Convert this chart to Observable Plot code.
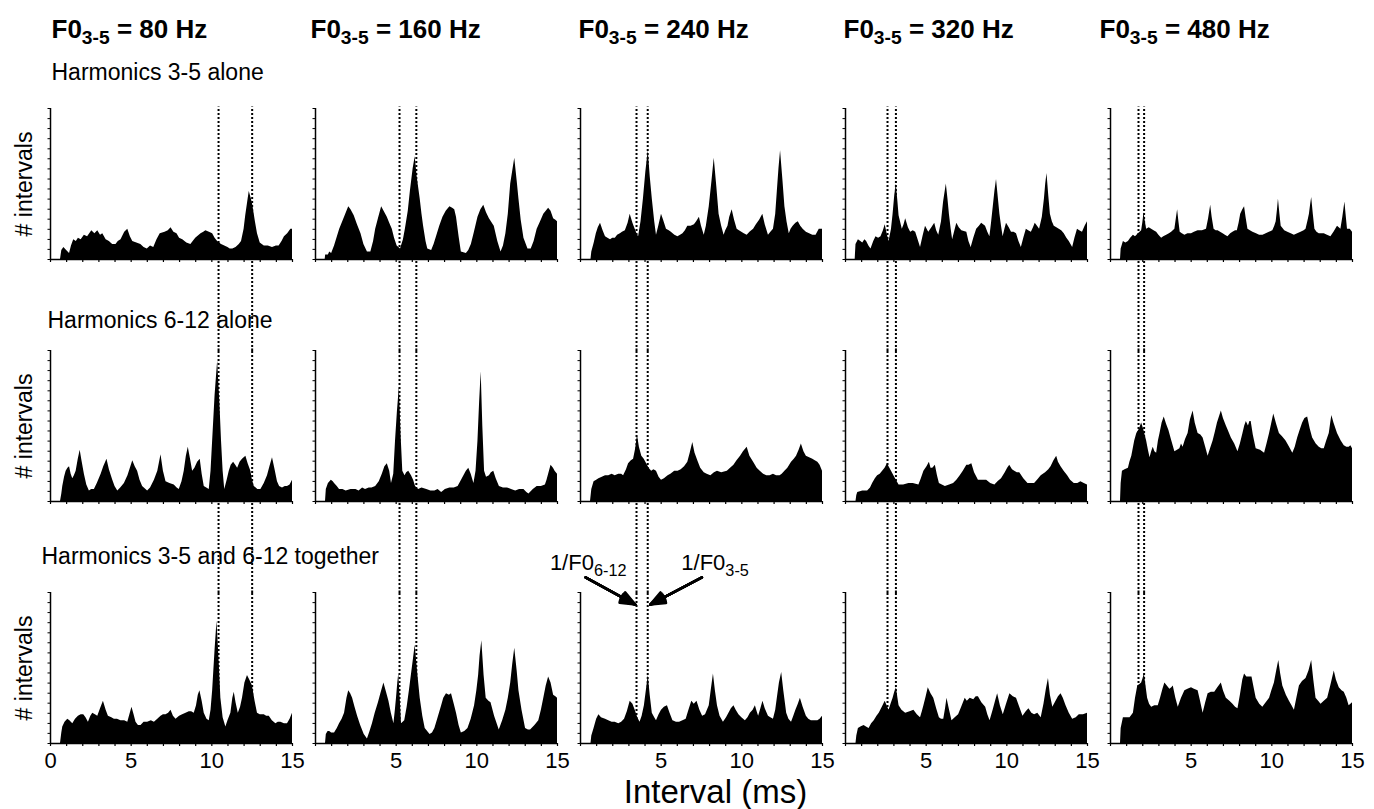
<!DOCTYPE html>
<html><head><meta charset="utf-8">
<script src="https://cdn.jsdelivr.net/npm/d3@7"></script>
<script src="https://cdn.jsdelivr.net/npm/@observablehq/plot@0.6"></script>
<style>html,body{margin:0;padding:0;background:#fff}</style>
</head><body><div id="chart"></div><script>
// ---------- data ----------
const f035 = [80, 160, 240, 320, 480];          // F0 of harmonics 3-5 (Hz)
const f0612 = [96, 192, 288, 384, 576];         // F0 of harmonics 6-12 (Hz)
const conditions = ["Harmonics 3-5 alone", "Harmonics 6-12 alone", "Harmonics 3-5 and 6-12 together"];
const titleText = ["F0_{3-5} = 80 Hz", "F0_{3-5} = 160 Hz", "F0_{3-5} = 240 Hz", "F0_{3-5} = 320 Hz", "F0_{3-5} = 480 Hz"];
const xTicks = [0,1,2,3,4,5,6,7,8,9,10,11,12,13,14,15];
const yTicks = [0,6.7,13.3,20,26.7,33.3,40,46.7,53.3,60,66.7,73.3,80,86.7,93.3,100];
const firstColTickLabels = [0, 5, 10, 15];
const otherColTickLabels = [5, 10, 15];

// interval histograms: [interval (ms), relative # intervals (% of axis height)]
const r1c1 = [[0,0],[0.62,0],[0.7,6],[0.83,8],[1.0,6],[1.18,4],[1.3,9],[1.44,13],[1.6,12],[1.73,14],[1.9,13],[2.1,16],[2.3,15],[2.56,19],[2.75,17],[2.93,19],[3.1,16],[3.24,17],[3.45,13],[3.65,12],[3.85,10],[4.06,10],[4.2,12],[4.37,13],[4.6,18],[4.79,20],[4.95,15],[5.1,12],[5.35,11],[5.6,10],[5.8,8],[6.0,7],[6.2,9],[6.4,8],[6.6,13],[6.8,17],[7.1,18],[7.3,19],[7.47,21],[7.65,18],[7.84,17],[8.0,14],[8.2,13],[8.45,11],[8.7,10],[9.0,14],[9.33,17],[9.5,18],[9.63,19],[9.85,18],[10.05,17],[10.2,14],[10.36,12],[10.6,10],[10.8,9],[11.0,8],[11.14,7],[11.3,7],[11.5,8],[11.7,10],[11.84,12],[12.0,20],[12.1,29],[12.25,40],[12.32,45],[12.45,40],[12.54,36],[12.7,25],[12.83,17],[13.0,11],[13.25,9],[13.5,9],[13.76,8],[14.0,9],[14.17,9],[14.35,12],[14.5,15],[14.7,17],[14.9,20],[15,20]];
const r1c2 = [[0,0],[0.6,0],[0.63,3],[0.8,3],[0.88,5],[1.0,4],[1.18,9],[1.5,20],[1.8,28],[2.06,35],[2.2,33],[2.4,29],[2.6,23],[2.82,17],[3.0,10],[3.22,5],[3.43,5],[3.6,12],[3.73,20],[3.9,27],[4.1,35],[4.25,32],[4.45,28],[4.6,24],[4.76,20],[4.9,14],[5.06,9],[5.27,7],[5.45,13],[5.57,20],[5.75,32],[5.88,45],[6.05,60],[6.18,68],[6.3,55],[6.49,40],[6.6,30],[6.7,22],[6.85,12],[6.96,7],[7.2,6],[7.35,10],[7.5,15],[7.7,22],[7.9,28],[8.1,32],[8.33,35],[8.5,34],[8.63,33],[8.74,28],[8.9,15],[9.04,5],[9.35,4],[9.5,6],[9.66,10],[9.85,18],[10.07,28],[10.25,33],[10.43,36],[10.6,31],[10.78,27],[11.08,22],[11.3,12],[11.5,5],[11.65,9],[11.8,17],[11.95,30],[12.1,50],[12.35,67],[12.5,52],[12.61,40],[12.75,26],[12.92,14],[13.17,7],[13.37,7],[13.55,12],[13.74,20],[13.95,25],[14.15,30],[14.45,34],[14.6,32],[14.76,27],[14.9,26],[15,25]];
const r1c3 = [[0,0],[0.65,0],[0.7,5],[0.85,11],[0.98,17],[1.1,21],[1.24,24],[1.4,19],[1.55,15],[1.7,14],[1.86,13],[2.0,14],[2.16,14],[2.3,16],[2.47,17],[2.6,18],[2.78,19],[2.95,24],[3.08,30],[3.25,24],[3.39,20],[3.5,17],[3.6,15],[3.75,25],[3.9,40],[4.05,58],[4.2,72],[4.32,55],[4.45,40],[4.6,25],[4.71,16],[4.85,22],[5.02,30],[5.15,26],[5.33,20],[5.5,19],[5.63,18],[5.85,16],[6.04,15],[6.2,16],[6.35,17],[6.5,19],[6.65,22],[6.85,22],[7.06,23],[7.2,25],[7.37,28],[7.5,22],[7.67,16],[7.8,22],[7.98,35],[8.15,52],[8.29,67],[8.45,48],[8.59,30],[8.75,22],[8.9,16],[9.0,19],[9.14,22],[9.25,28],[9.4,33],[9.55,26],[9.71,20],[9.85,19],[10.0,18],[10.15,17],[10.33,16],[10.5,18],[10.73,20],[10.9,23],[11.1,26],[11.2,28],[11.3,30],[11.45,23],[11.65,16],[11.8,18],[11.96,20],[12.1,30],[12.2,45],[12.3,60],[12.4,72],[12.55,52],[12.67,35],[12.8,25],[12.94,17],[13.05,20],[13.18,22],[13.35,24],[13.5,25],[13.65,22],[13.8,20],[14.0,18],[14.2,17],[14.4,16],[14.6,16],[14.7,18],[14.8,20],[15,20]];
const r1c4 = [[0,0],[0.6,0],[0.65,10],[0.8,13],[0.95,12],[1.07,11],[1.2,13],[1.31,12],[1.45,9],[1.58,7],[1.75,12],[1.89,15],[2.05,14],[2.2,15],[2.35,19],[2.46,23],[2.58,17],[2.7,12],[2.85,20],[2.95,30],[3.05,42],[3.15,50],[3.25,38],[3.32,29],[3.52,20],[3.63,23],[3.73,27],[3.9,21],[4.04,18],[4.2,19],[4.35,18],[4.5,13],[4.65,8],[4.8,15],[4.96,22],[5.16,18],[5.35,21],[5.53,24],[5.65,19],[5.78,16],[5.95,25],[6.08,38],[6.25,50],[6.35,40],[6.44,30],[6.55,20],[6.64,13],[6.78,19],[6.9,24],[7.05,21],[7.21,19],[7.52,18],[7.65,12],[7.79,8],[7.95,14],[8.13,20],[8.3,22],[8.44,24],[8.68,22],[8.82,18],[8.95,15],[9.05,24],[9.16,35],[9.26,45],[9.36,53],[9.46,42],[9.57,30],[9.67,22],[9.77,15],[9.88,20],[9.98,24],[10.15,21],[10.29,18],[10.45,18],[10.6,17],[10.75,12],[10.9,8],[11.05,14],[11.21,20],[11.35,19],[11.52,18],[11.65,21],[11.76,24],[11.9,22],[12.03,20],[12.2,28],[12.33,40],[12.41,50],[12.49,57],[12.6,42],[12.7,30],[12.82,25],[12.94,22],[13.1,21],[13.25,20],[13.4,19],[13.56,17],[13.72,14],[13.87,12],[14.08,8],[14.22,14],[14.38,20],[14.52,19],[14.69,18],[14.85,22],[15,25]];
const r1c5 = [[0,0],[0.62,0],[0.66,7],[0.8,12],[0.95,11],[1.11,12],[1.25,14],[1.42,16],[1.55,15],[1.73,17],[1.93,19],[2.0,24],[2.08,31],[2.16,25],[2.24,20],[2.4,21],[2.55,20],[2.7,19],[2.86,18],[3.0,16],[3.17,14],[3.3,15],[3.48,16],[3.65,17],[3.79,18],[3.99,20],[4.08,27],[4.16,33],[4.24,25],[4.32,18],[4.45,17],[4.61,16],[4.8,17],[5.02,17],[5.2,18],[5.43,19],[5.7,19],[5.95,20],[6.08,27],[6.21,36],[6.3,28],[6.42,20],[6.55,19],[6.67,19],[6.82,18],[6.98,17],[7.12,16],[7.28,15],[7.45,17],[7.59,18],[7.75,19],[7.86,19],[7.97,24],[8.07,30],[8.2,33],[8.31,35],[8.4,28],[8.52,20],[8.67,19],[8.83,18],[9.05,17],[9.24,16],[9.45,16],[9.65,17],[9.85,18],[10.06,19],[10.18,22],[10.27,25],[10.35,33],[10.41,40],[10.5,30],[10.58,22],[10.8,19],[10.99,18],[11.2,17],[11.4,16],[11.6,17],[11.81,18],[12.0,19],[12.12,20],[12.25,26],[12.33,30],[12.4,36],[12.47,41],[12.57,30],[12.67,20],[12.8,18],[12.94,17],[13.1,17],[13.25,17],[13.45,16],[13.66,15],[13.85,18],[14.07,22],[14.18,21],[14.28,20],[14.4,28],[14.53,38],[14.6,30],[14.69,20],[14.86,20],[15,18]];
const r2c1 = [[0,0],[0.62,0],[0.7,5],[0.76,10],[0.87,16],[0.97,20],[1.08,22],[1.18,23],[1.28,18],[1.38,15],[1.48,17],[1.59,20],[1.72,28],[1.84,34],[1.95,27],[2.1,18],[2.25,11],[2.41,7],[2.55,8],[2.72,8],[2.9,12],[3.14,18],[3.3,23],[3.5,28],[3.65,21],[3.86,14],[4.0,10],[4.17,7],[4.35,9],[4.58,12],[4.8,17],[4.95,22],[5.1,27],[5.25,23],[5.4,20],[5.55,14],[5.71,10],[6.02,7],[6.2,9],[6.44,14],[6.65,20],[6.85,31],[7.0,20],[7.16,13],[7.4,12],[7.67,11],[7.85,9],[7.98,8],[8.15,13],[8.29,20],[8.42,30],[8.54,36],[8.68,28],[8.81,20],[8.95,22],[9.12,26],[9.28,28],[9.4,18],[9.53,10],[9.84,8],[9.95,20],[10.05,40],[10.2,70],[10.36,93],[10.5,65],[10.6,40],[10.7,20],[10.8,8],[10.95,14],[11.08,20],[11.2,24],[11.35,26],[11.48,24],[11.6,22],[11.75,26],[11.9,28],[12.11,30],[12.25,25],[12.42,20],[12.5,15],[12.63,10],[12.85,8],[13.04,8],[13.25,12],[13.45,17],[13.6,23],[13.76,29],[13.9,22],[14.07,13],[14.2,10],[14.38,9],[14.55,10],[14.69,10],[14.85,11],[15,14]];
const r2c2 = [[0,0],[0.62,0],[0.67,8],[0.8,12],[0.98,14],[1.1,13],[1.18,12],[1.35,10],[1.49,8],[1.7,8],[1.9,7],[2.2,8],[2.51,8],[2.7,7],[2.92,9],[3.1,8],[3.33,9],[3.5,9],[3.73,10],[3.95,13],[4.14,18],[4.3,23],[4.45,25],[4.6,20],[4.71,12],[4.85,18],[4.96,40],[5.08,60],[5.2,76],[5.3,45],[5.41,20],[5.55,17],[5.65,19],[5.78,20],[5.95,17],[6.08,14],[6.2,10],[6.39,8],[6.6,9],[6.9,8],[7.15,7],[7.4,7],[7.6,8],[7.82,6],[8.05,8],[8.33,9],[8.6,9],[8.84,10],[9.0,13],[9.15,16],[9.35,20],[9.5,22],[9.65,18],[9.82,12],[9.95,20],[10.07,40],[10.17,65],[10.27,86],[10.37,50],[10.48,20],[10.6,16],[10.78,17],[10.9,19],[11.05,20],[11.2,15],[11.4,10],[11.65,9],[11.9,9],[12.15,8],[12.41,7],[12.65,8],[12.92,8],[13.1,6],[13.23,5],[13.5,8],[13.74,10],[14.0,10],[14.25,11],[14.35,14],[14.45,18],[14.6,24],[14.75,22],[14.85,20],[15,18]];
const r2c3 = [[0,0],[0.62,0],[0.7,8],[0.84,13],[1.0,14],[1.14,15],[1.35,16],[1.55,17],[1.75,17],[1.96,18],[2.15,17],[2.37,18],[2.55,18],[2.67,17],[2.85,21],[2.98,25],[3.15,27],[3.29,28],[3.42,35],[3.53,44],[3.65,36],[3.8,30],[3.95,28],[4.1,25],[4.25,22],[4.41,20],[4.55,21],[4.71,20],[4.87,16],[5.02,14],[5.2,15],[5.43,17],[5.6,18],[5.84,20],[6.05,20],[6.24,21],[6.45,23],[6.65,26],[6.8,32],[6.96,39],[7.1,32],[7.27,27],[7.45,22],[7.67,19],[7.85,18],[8.08,17],[8.3,19],[8.49,20],[8.75,19],[9.1,20],[9.3,22],[9.51,24],[9.7,27],[9.92,30],[10.1,33],[10.33,36],[10.5,30],[10.73,26],[10.95,22],[11.14,20],[11.35,18],[11.55,17],[11.75,17],[11.96,18],[12.15,17],[12.37,17],[12.5,18],[12.67,20],[12.85,22],[13.08,26],[13.25,28],[13.39,30],[13.55,34],[13.69,38],[13.85,33],[14.0,30],[14.2,29],[14.4,28],[14.55,27],[14.71,26],[14.85,24],[15,20]];
const r2c4 = [[0,0],[0.65,0],[0.7,4],[0.76,6],[1.07,7],[1.37,7],[1.55,9],[1.68,12],[1.85,15],[1.99,17],[2.15,18],[2.3,20],[2.45,22],[2.6,25],[2.75,22],[2.9,19],[3.1,15],[3.32,11],[3.6,11],[3.93,12],[4.2,12],[4.55,11],[4.7,15],[4.86,20],[5.05,23],[5.2,26],[5.3,22],[5.41,22],[5.57,24],[5.7,17],[5.82,12],[6.0,11],[6.19,10],[6.45,11],[6.7,12],[6.9,14],[7.11,17],[7.3,20],[7.52,24],[7.65,24],[7.83,25],[8.0,19],[8.24,14],[8.5,14],[8.75,14],[9.0,12],[9.26,11],[9.45,13],[9.67,15],[9.9,19],[10.05,22],[10.18,24],[10.35,21],[10.49,20],[10.65,19],[10.8,19],[11.05,15],[11.31,12],[11.5,12],[11.72,12],[11.9,14],[12.13,17],[12.4,19],[12.6,21],[12.74,23],[12.92,27],[13.09,30],[13.2,26],[13.36,23],[13.55,20],[13.77,17],[13.95,14],[14.18,12],[14.4,12],[14.59,13],[14.8,12],[15,11]];
const r2c5 = [[0,0],[0.62,0],[0.66,12],[0.74,20],[0.9,21],[1.11,22],[1.2,26],[1.32,30],[1.5,40],[1.63,45],[1.8,48],[1.93,52],[2.05,48],[2.24,40],[2.35,34],[2.45,29],[2.55,33],[2.65,36],[2.75,33],[2.86,32],[2.97,40],[3.07,45],[3.2,52],[3.33,56],[3.48,51],[3.62,47],[3.8,40],[3.99,33],[4.15,34],[4.3,35],[4.4,38],[4.5,36],[4.65,41],[4.81,45],[4.95,54],[5.12,60],[5.25,52],[5.43,45],[5.6,44],[5.74,42],[5.9,36],[6.05,30],[6.2,35],[6.36,40],[6.5,46],[6.63,52],[6.75,56],[6.87,60],[7.0,55],[7.18,50],[7.3,47],[7.49,42],[7.7,38],[7.9,33],[8.05,38],[8.21,45],[8.32,50],[8.42,53],[8.55,50],[8.64,53],[8.72,53],[8.85,44],[9.03,35],[9.3,34],[9.55,32],[9.7,38],[9.86,45],[10.0,52],[10.12,58],[10.3,51],[10.47,45],[10.65,43],[10.88,40],[11.1,36],[11.3,32],[11.45,36],[11.6,42],[11.75,47],[11.91,52],[12.05,55],[12.22,56],[12.38,48],[12.53,42],[12.75,38],[12.94,36],[13.1,35],[13.25,35],[13.4,40],[13.56,45],[13.65,52],[13.72,57],[13.85,52],[14.07,45],[14.3,40],[14.49,37],[14.65,36],[14.79,36],[14.9,37],[15,35]];
const r3c1 = [[0,0],[0.62,0],[0.7,7],[0.76,11],[0.9,14],[1.07,16],[1.2,15],[1.38,13],[1.55,16],[1.73,18],[1.9,19],[2.06,19],[2.2,17],[2.35,14],[2.5,18],[2.62,20],[2.78,19],[2.93,18],[3.1,23],[3.28,28],[3.45,22],[3.59,18],[3.8,17],[3.96,16],[4.15,16],[4.37,15],[4.6,15],[4.79,14],[4.92,19],[5.05,24],[5.18,19],[5.3,14],[5.45,12],[5.61,12],[5.8,14],[6.02,14],[6.25,15],[6.44,14],[6.65,16],[6.85,18],[7.0,19],[7.16,19],[7.32,20],[7.47,22],[7.62,18],[7.78,16],[8.0,18],[8.19,19],[8.4,20],[8.6,21],[8.75,21],[8.91,20],[9.05,25],[9.16,32],[9.26,35],[9.4,28],[9.53,20],[9.7,16],[9.84,15],[9.95,22],[10.05,35],[10.2,62],[10.32,81],[10.45,55],[10.56,30],[10.7,17],[10.87,11],[11.0,15],[11.18,20],[11.3,30],[11.39,34],[11.5,27],[11.64,20],[11.78,24],[11.9,30],[12.05,40],[12.21,45],[12.35,42],[12.52,38],[12.68,28],[12.83,20],[13.0,19],[13.25,19],[13.4,18],[13.56,18],[13.75,15],[13.97,13],[14.12,14],[14.28,14],[14.5,13],[14.69,13],[14.85,16],[15,20]];
const r3c2 = [[0,0],[0.62,0],[0.67,6],[0.78,8],[0.88,8],[1.0,7],[1.18,7],[1.35,10],[1.49,13],[1.65,16],[1.8,20],[1.95,30],[2.06,35],[2.18,33],[2.3,30],[2.45,24],[2.61,18],[2.8,12],[3.02,6],[3.22,3],[3.38,8],[3.53,13],[3.7,20],[3.9,27],[4.05,33],[4.24,40],[4.4,34],[4.55,28],[4.7,20],[4.86,13],[4.95,22],[5.02,30],[5.1,40],[5.16,46],[5.25,30],[5.33,13],[5.53,15],[5.68,24],[5.82,35],[6.0,50],[6.18,65],[6.35,45],[6.49,30],[6.65,18],[6.8,10],[7.1,6],[7.25,7],[7.4,10],[7.6,17],[7.82,25],[7.95,30],[8.12,33],[8.3,32],[8.43,33],[8.6,26],[8.74,20],[8.9,12],[9.04,7],[9.25,8],[9.45,10],[9.65,16],[9.86,25],[10.0,35],[10.11,45],[10.2,58],[10.31,68],[10.45,45],[10.58,30],[10.75,28],[10.88,27],[11.1,18],[11.39,9],[11.6,15],[11.8,22],[11.95,30],[12.1,40],[12.22,52],[12.35,63],[12.5,48],[12.61,35],[12.8,22],[13.02,10],[13.2,9],[13.33,9],[13.6,12],[13.84,15],[14.0,22],[14.15,30],[14.3,38],[14.45,44],[14.6,40],[14.76,32],[14.9,31],[15,30]];
const r3c3 = [[0,0],[0.65,0],[0.7,5],[0.84,10],[1.0,16],[1.14,19],[1.3,17],[1.55,16],[1.75,15],[1.96,14],[2.15,14],[2.37,13],[2.55,14],[2.73,16],[2.9,21],[3.08,28],[3.25,26],[3.39,22],[3.55,17],[3.69,14],[3.82,18],[3.96,25],[4.08,35],[4.2,45],[4.32,32],[4.45,20],[4.6,17],[4.71,15],[4.87,19],[5.02,22],[5.2,24],[5.39,25],[5.55,20],[5.73,15],[5.95,14],[6.14,14],[6.35,15],[6.55,16],[6.72,22],[6.9,28],[7.05,26],[7.22,28],[7.4,22],[7.57,18],[7.75,19],[7.98,25],[8.1,35],[8.24,46],[8.36,35],[8.49,25],[8.65,18],[8.86,14],[9.05,17],[9.2,20],[9.35,23],[9.51,25],[9.65,22],[9.82,19],[10.0,17],[10.22,15],[10.38,17],[10.53,20],[10.7,22],[10.84,25],[10.95,21],[11.04,18],[11.18,23],[11.31,28],[11.45,23],[11.65,18],[11.8,17],[11.96,16],[12.1,22],[12.2,30],[12.33,40],[12.47,47],[12.6,35],[12.78,20],[12.92,16],[13.08,14],[13.22,18],[13.35,22],[13.5,26],[13.63,30],[13.8,24],[14.0,18],[14.15,16],[14.31,15],[14.5,15],[14.71,15],[14.85,16],[15,18]];
const r3c4 = [[0,0],[0.65,0],[0.7,5],[0.8,10],[0.95,11],[1.15,12],[1.3,11],[1.46,10],[1.62,13],[1.78,15],[1.95,18],[2.09,20],[2.28,24],[2.46,28],[2.58,25],[2.7,22],[2.82,26],[2.95,30],[3.05,34],[3.16,37],[3.25,30],[3.32,25],[3.5,22],[3.73,20],[4.0,21],[4.24,22],[4.45,19],[4.65,17],[4.76,21],[4.86,25],[5.0,31],[5.13,37],[5.3,33],[5.47,30],[5.65,23],[5.82,17],[5.95,16],[6.09,16],[6.2,23],[6.29,30],[6.45,22],[6.6,15],[6.8,17],[7.01,19],[7.2,24],[7.42,30],[7.55,28],[7.73,30],[7.95,29],[8.1,31],[8.24,31],[8.45,27],[8.69,24],[8.82,19],[8.96,15],[9.15,22],[9.3,28],[9.43,33],[9.6,25],[9.78,19],[9.98,26],[10.19,33],[10.4,31],[10.6,30],[10.8,24],[11.0,18],[11.2,21],[11.37,23],[11.55,20],[11.72,19],[11.92,20],[12.13,17],[12.3,26],[12.45,36],[12.58,43],[12.7,32],[12.85,24],[13.0,27],[13.2,31],[13.36,33],[13.5,30],[13.67,25],[13.87,20],[14.08,16],[14.3,17],[14.49,19],[14.75,19],[15,20]];
const r3c5 = [[0,0],[0.62,0],[0.66,10],[0.8,17],[1.0,17],[1.21,17],[1.42,20],[1.55,30],[1.69,38],[1.82,39],[1.93,40],[2.02,43],[2.1,46],[2.2,38],[2.3,30],[2.42,26],[2.55,24],[2.75,25],[2.96,25],[3.1,30],[3.25,36],[3.37,40],[3.52,38],[3.68,36],[3.8,37],[3.89,38],[4.05,30],[4.2,24],[4.4,30],[4.61,35],[4.8,36],[5.02,37],[5.2,36],[5.43,35],[5.58,28],[5.74,20],[5.9,27],[6.05,33],[6.25,34],[6.46,34],[6.65,37],[6.87,40],[7.0,35],[7.18,30],[7.4,28],[7.59,26],[7.75,24],[7.9,23],[8.05,32],[8.2,42],[8.31,46],[8.45,44],[8.62,44],[8.77,44],[8.9,37],[9.03,30],[9.25,26],[9.44,24],[9.65,27],[9.86,30],[10.0,35],[10.16,40],[10.3,48],[10.43,55],[10.55,46],[10.68,38],[10.9,32],[11.09,28],[11.25,25],[11.4,22],[11.55,30],[11.71,38],[11.9,41],[12.12,43],[12.3,48],[12.47,55],[12.6,42],[12.74,30],[12.9,28],[13.05,26],[13.25,28],[13.46,30],[13.65,38],[13.87,48],[14.0,42],[14.18,37],[14.35,35],[14.49,34],[14.65,30],[14.79,25],[14.9,26],[15,27]];

// annotation (panel F0 = 240 Hz, together): arrows and labels, in data units
const annoArrows = [{x1: 0.31, y1: 110, x2: 3.4, y2: 92}, {x1: 7.53, y1: 110, x2: 4.32, y2: 92}];
const annoLeft = [{label: "1/F0_{6-12}", t: 2.85, v: 114.6}];
const annoRight = [{label: "1/F0_{3-5}", t: 6.25, v: 114.6}];

// ---------- tables ----------
const panels = [[r1c1, r1c2, r1c3, r1c4, r1c5], [r2c1, r2c2, r2c3, r2c4, r2c5], [r3c1, r3c2, r3c3, r3c4, r3c5]];
const table = panels.flatMap((row, ri) => row.flatMap((pts, ci) =>
  pts.map(([t, v]) => ({cond: conditions[ri], f0: f035[ci], t, v}))));
const refLines = conditions.flatMap((cond, ri) => f035.flatMap((f, ci) =>
  [1000 / f0612[ci], 1000 / f].map(t => ({cond, f0: f, t, y1: ri < 2 ? -61 : 0, y2: 101}))));
const tickLabels = f035.flatMap((f, ci) => (ci === 0 ? firstColTickLabels : otherColTickLabels).map(t => ({f0: f, t})));

// ---------- layout constants ----------
const titleDx = [1, -5, -2, -2, -11];
const rowLabelDx = [1, -3, -9];
const rowLabelDy = [-29, -23, -29];
const font = "'Liberation Sans', Arial, Helvetica, sans-serif";

const marks = [
  Plot.ruleX(refLines, {x: "t", y1: "y1", y2: "y2", fx: "f0", fy: "cond", stroke: "#000", strokeWidth: 2, strokeDasharray: "2,2"}),
  Plot.areaY(table, {x: "t", y: "v", fx: "f0", fy: "cond", fill: "#000", curve: "linear"}),
  Plot.ruleY([0], {stroke: "#000", strokeWidth: 1.5}),
  Plot.ruleX([0], {stroke: "#000", strokeWidth: 1.5}),
  Plot.axisX({facetAnchor: null, ticks: xTicks, tickSize: 3, tickFormat: () => "", label: null, strokeWidth: 1.2}),
  Plot.axisY({facetAnchor: null, ticks: yTicks, tickSize: 2.5, tickFormat: () => "", label: null, strokeWidth: 1}),
  Plot.text(tickLabels, {x: "t", fx: "f0", fy: () => conditions[2], frameAnchor: "bottom", lineAnchor: "bottom", dy: 24, text: d => String(d.t), fontSize: 22, fill: "#000"}),
  ...f035.map((f, i) => Plot.text([titleText[i]], {fx: () => f, fy: () => conditions[0], frameAnchor: "top-left", textAnchor: "start", lineAnchor: "bottom", dx: titleDx[i], dy: -71, text: d => d, fontSize: 26, fontWeight: "bold", fill: "#000"})),
  ...conditions.map((c, i) => Plot.text([c], {fx: () => f035[0], fy: () => c, frameAnchor: "top-left", textAnchor: "start", lineAnchor: "bottom", dx: rowLabelDx[i], dy: rowLabelDy[i], text: d => d, fontSize: 23, fill: "#000"})),
  Plot.text(conditions, {fx: () => f035[0], fy: d => d, frameAnchor: "left", rotate: -90, textAnchor: "middle", lineAnchor: "middle", dx: -26, text: () => "# intervals", fontSize: 23, fill: "#000"}),
  Plot.text(["Interval (ms)"], {fx: () => f035[2], fy: () => conditions[2], frameAnchor: "bottom", lineAnchor: "bottom", dx: 14, dy: 59, text: d => d, fontSize: 33, fill: "#000"}),
  Plot.text(annoLeft, {x: "t", y: "v", fx: () => f035[2], fy: () => conditions[2], textAnchor: "end", lineAnchor: "bottom", text: "label", fontSize: 22, fill: "#000"}),
  Plot.text(annoRight, {x: "t", y: "v", fx: () => f035[2], fy: () => conditions[2], textAnchor: "start", lineAnchor: "bottom", text: "label", fontSize: 22, fill: "#000"}),
  ...[44, 33, 22, 11, 1].map(a => Plot.arrow(annoArrows, {x1: "x1", y1: "y1", x2: "x2", y2: "y2", fx: () => f035[2], fy: () => conditions[2], stroke: "#000", strokeWidth: 2.4, headLength: 10, headAngle: a}))
];

const chart = Plot.plot({
  width: 1374, height: 809,
  marginTop: 107, marginBottom: 66, marginLeft: 49, marginRight: 20,
  style: {fontFamily: font, background: "#fff", color: "#000", overflow: "visible"},
  x: {domain: [0, 15], axis: null},
  y: {domain: [0, 100], axis: null},
  fx: {domain: f035, padding: 0.085, axis: null},
  fy: {domain: conditions, padding: 0.377, axis: null},
  marks
});
document.getElementById("chart").append(chart);

// subscripts: "_{...}" becomes a lowered, smaller tspan
chart.querySelectorAll("text").forEach(el => {
  const s = el.textContent;
  if (!s.includes("_{")) return;
  const fs = parseFloat(getComputedStyle(el).fontSize);
  const shift = fs * 0.24;
  el.textContent = "";
  let down = false;
  s.split(/(_\{[^}]*\})/).filter(Boolean).forEach(part => {
    const ts = document.createElementNS("http://www.w3.org/2000/svg", "tspan");
    if (part.startsWith("_{")) {
      ts.textContent = part.slice(2, -1);
      ts.setAttribute("font-size", fs * 0.74);
      ts.setAttribute("dy", shift);
      down = true;
    } else {
      ts.textContent = part;
      if (down) { ts.setAttribute("dy", -shift); down = false; }
    }
    el.appendChild(ts);
  });
});
</script></body></html>
